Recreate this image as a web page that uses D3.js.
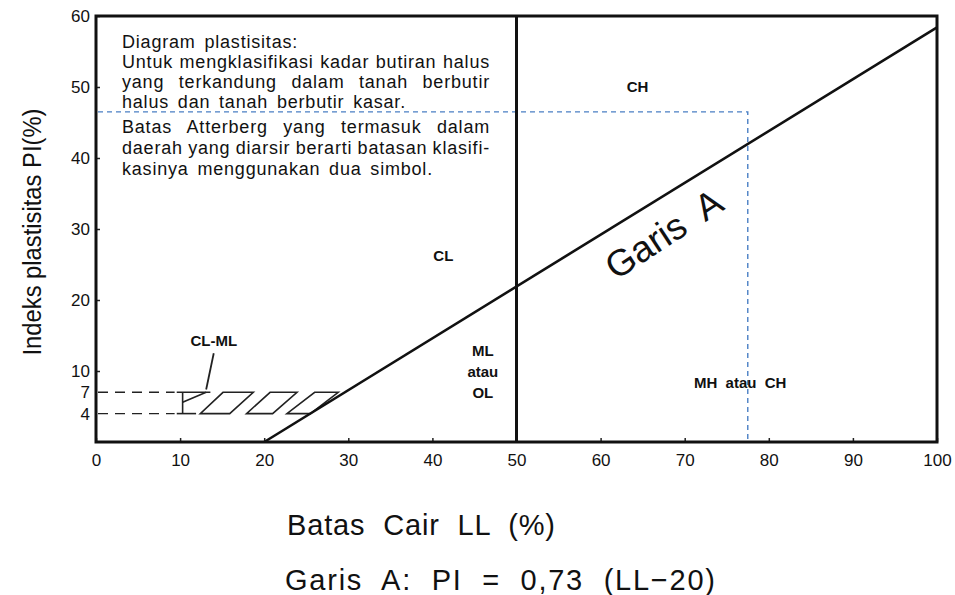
<!doctype html>
<html>
<meta charset="utf-8">
<style>
body { margin: 0; padding: 0; background: #fff; }
svg text { font-family: 'Liberation Sans', Arial, sans-serif; fill: #111; }
.note text { font-size: 18px; letter-spacing: 0.8px; }
</style>
<body>
<svg width="955" height="595"></svg>
<script src="https://cdn.jsdelivr.net/npm/d3@7"></script>
<script>

// axis ticks
var llTicks = [0, 10, 20, 30, 40, 50, 60, 70, 80, 90, 100];
var piTicks = [4, 7, 10, 20, 30, 40, 50, 60];

// Garis A : PI = 0.73 (LL - 20)
var aSlope = 0.73, aStart = 20;
var aLineLL = [20, 100];
var llDivide = 50;          // LL = 50 boundary
var clmlBand = [4, 7];      // CL-ML zone PI limits
var clmlStart = 10.3;

// hatched parallelograms in the CL-ML band (bottom-left, bottom-right, top-left, top-right LL)
var hatchBlocks = [
  [12.4, 15.9, 15.1, 18.7],
  [17.9, 21.0, 20.7, 23.9],
  [22.7, 25.5, 26.0, 28.8]
];

// example point (blue dashed guide)
var sampleLL = 77.5, samplePI = 46.5;

var zoneLabels = [
  {text: "CH", ll: 64.4, pi: 50.0},
  {text: "CL", ll: 41.3, pi: 26.2},
  {text: "ML", ll: 46.0, pi: 12.9},
  {text: "atau", ll: 46.0, pi: 9.9},
  {text: "OL", ll: 46.0, pi: 6.9},
  {text: "MH  atau  CH", ll: 76.6, pi: 8.4},
  {text: "CL-ML", ll: 14.0, pi: 14.3}
];

var noteLines = [
  "Diagram plastisitas:",
  "Untuk mengklasifikasi kadar butiran halus",
  "yang terkandung dalam tanah berbutir",
  "halus dan tanah berbutir kasar.",
  "Batas Atterberg yang termasuk dalam",
  "daerah yang diarsir berarti batasan klasifi-",
  "kasinya menggunakan dua simbol."
];
var noteJustify = [false, true, true, false, true, true, false];

var svg = d3.select("svg");
var x = d3.scaleLinear().domain([0, 100]).range([96, 937]);
var y = d3.scaleLinear().domain([0, 60]).range([442, 16]);

function aLine(ll) { return aSlope * (ll - aStart); }

// axes
var gx = svg.append("g").attr("transform", "translate(0," + y(0) + ")")
  .call(d3.axisBottom(x).tickValues(llTicks).tickSize(-4).tickPadding(12));
var gy = svg.append("g").attr("transform", "translate(" + x(0) + ",0)")
  .call(d3.axisLeft(y).tickValues(piTicks).tickSize(-4).tickPadding(6));
gx.select(".domain").remove();
gy.select(".domain").remove();
gx.selectAll("line").attr("stroke", "#222").attr("stroke-width", 1.5);
gy.selectAll("line").attr("stroke", "#222").attr("stroke-width", 1.5)
  .filter(function(d) { return d < 10; }).remove();
[gx, gy].forEach(function(g) {
  g.selectAll("text").attr("font-size", 17).attr("fill", "#111")
    .style("font-family", "'Liberation Sans', Arial, sans-serif")
    .style("font-weight", 500);
});

// CL-ML dashed guides
svg.selectAll(".band").data(clmlBand).enter().append("line")
  .attr("x1", x(0) + 2).attr("x2", x(clmlStart) - 8)
  .attr("y1", function(d) { return y(d); }).attr("y2", function(d) { return y(d); })
  .attr("stroke", "#222").attr("stroke-width", 1.4).attr("stroke-dasharray", "10,7");

// Y-shaped start of the hatched zone
var lo = clmlBand[0], hi = clmlBand[1];
var ySeg = [
  [[clmlStart - 0.7, hi], [clmlStart + 3.3, hi]],
  [[clmlStart - 0.7, lo], [clmlStart + 1.6, lo]],
  [[clmlStart, lo], [clmlStart, hi]],
  [[clmlStart, lo + 1.6], [clmlStart + 2.8, hi]]
];
svg.selectAll(".yseg").data(ySeg).enter().append("line")
  .attr("x1", function(d) { return x(d[0][0]); }).attr("y1", function(d) { return y(d[0][1]); })
  .attr("x2", function(d) { return x(d[1][0]); }).attr("y2", function(d) { return y(d[1][1]); })
  .attr("stroke", "#222").attr("stroke-width", 1.6);

// hatched parallelograms
svg.selectAll(".hatch").data(hatchBlocks).enter().append("path")
  .attr("d", function(d) {
    return "M" + x(d[0]) + "," + y(lo) + "L" + x(d[1]) + "," + y(lo) +
           "L" + x(d[3]) + "," + y(hi) + "L" + x(d[2]) + "," + y(hi) + "Z";
  })
  .attr("fill", "none").attr("stroke", "#222").attr("stroke-width", 1.6);

// leader line for CL-ML
svg.append("line")
  .attr("x1", x(14.0)).attr("y1", y(12.5)).attr("x2", x(13.1)).attr("y2", y(7.4))
  .attr("stroke", "#222").attr("stroke-width", 1.8);

// blue dashed guide
svg.append("path")
  .attr("d", "M" + (x(0) + 2) + "," + y(samplePI) + "H" + x(sampleLL) + "V" + (y(0) - 2))
  .attr("fill", "none").attr("stroke", "#4a7fc4").attr("stroke-width", 1.4)
  .attr("stroke-dasharray", "5,4");

// LL = 50 line
svg.append("line")
  .attr("x1", x(llDivide)).attr("x2", x(llDivide)).attr("y1", y(60)).attr("y2", y(0))
  .attr("stroke", "#111").attr("stroke-width", 3);

// Garis A
svg.append("line")
  .attr("x1", x(aLineLL[0])).attr("y1", y(aLine(aLineLL[0])))
  .attr("x2", x(aLineLL[1])).attr("y2", y(aLine(aLineLL[1])))
  .attr("stroke", "#111").attr("stroke-width", 2.6);

// frame
svg.append("rect")
  .attr("x", x(0)).attr("y", y(60)).attr("width", x(100) - x(0)).attr("height", y(0) - y(60))
  .attr("fill", "none").attr("stroke", "#111").attr("stroke-width", 3);

// zone labels
svg.selectAll(".zone").data(zoneLabels).enter().append("text")
  .attr("x", function(d) { return x(d.ll); })
  .attr("y", function(d) { return y(d.pi); })
  .attr("dy", "0.35em").attr("text-anchor", "middle")
  .attr("font-size", 15).attr("font-weight", "bold")
  .style("white-space", "pre")
  .text(function(d) { return d.text; });

// Garis A label along the line
var angle = Math.atan2(y(aLine(100)) - y(aLine(20)), x(100) - x(20)) * 180 / Math.PI;
svg.append("text")
  .attr("transform", "translate(" + x(67.5) + "," + y(29.3) + ") rotate(" + (angle - 1.5) + ")")
  .attr("text-anchor", "middle").attr("dy", "0.35em")
  .attr("font-size", 37).style("white-space", "pre")
  .text("Garis  A");

// note text, justified lines get extra word spacing
var note = svg.append("g").attr("class", "note");
var noteY = [48, 68, 88, 108, 133, 154, 175];
var noteWidth = 368;
note.selectAll("text").data(noteLines).enter().append("text")
  .attr("x", 122)
  .attr("y", function(d, i) { return noteY[i]; })
  .style("word-spacing", "3px")
  .text(function(d) { return d; })
  .each(function(d, i) {
    if (!noteJustify[i]) return;
    var el = d3.select(this).style("word-spacing", "0px");
    var gaps = d.split(" ").length - 1;
    var extra = (noteWidth - this.getComputedTextLength()) / gaps;
    el.style("word-spacing", extra + "px");
  });

// axis titles
svg.append("text")
  .attr("transform", "translate(41,232) rotate(-90)")
  .attr("text-anchor", "middle").attr("font-size", 26)
  .attr("textLength", 247).attr("lengthAdjust", "spacingAndGlyphs")
  .text("Indeks plastisitas PI(%)");

svg.append("text")
  .attr("x", 287).attr("y", 535)
  .attr("font-size", 29).style("white-space", "pre")
  .attr("textLength", 268).attr("lengthAdjust", "spacing")
  .text("Batas  Cair  LL  (%)");

svg.append("text")
  .attr("x", 285).attr("y", 590)
  .attr("font-size", 29).style("white-space", "pre")
  .attr("textLength", 430).attr("lengthAdjust", "spacing")
  .text("Garis  A:  PI  =  0,73  (LL\u221220)");

</script>
</body>
</html>
